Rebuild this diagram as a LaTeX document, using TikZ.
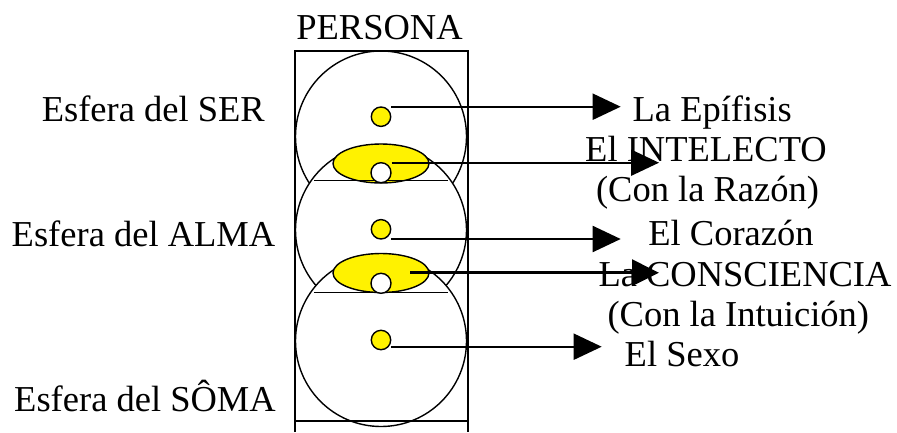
\documentclass[tikz,border=0pt]{standalone}
\usepackage{fontspec}
\setmainfont{Liberation Serif}
\usetikzlibrary{arrows.meta,shapes.geometric}
\begin{document}
\begin{tikzpicture}[x=1pt,y=-1pt,
  lbl/.style={anchor=base, inner sep=0pt, font=\fontsize{36.5}{40}\selectfont},
  sphere/.style={circle, draw, line width=1.4pt, fill=white, minimum size=171pt, inner sep=0pt},
  dot/.style={circle, draw, line width=1.4pt, fill=yellow, minimum size=19.4pt, inner sep=0pt},
  hole/.style={circle, draw, line width=1.4pt, fill=white, minimum size=20pt, inner sep=0pt},
  eye/.style={ellipse, draw, line width=1.4pt, fill=yellow, minimum width=96pt, minimum height=39pt, inner sep=0pt},
  rule/.style={line width=1.5pt},
  conn/.style={line width=2pt, -{Triangle[length=28pt,width=26pt]}},
  thickconn/.style={line width=3.4pt, -{Triangle[length=27pt,width=26pt]}},
  frame/.style={line width=1.7pt}
  ]
\useasboundingbox (0,0) rectangle (897,432);
% spheres
\node[sphere] (ser) at (381,136.5) {};
\node[sphere] (alma) at (381,230) {};
\node[sphere] (soma) at (381,341) {};
% eyes
\node[eye] (eye1) at (381,163.5) {};
\node[eye] (eye2) at (381,273) {};
\coordinate (r1a) at (314,180.7); \coordinate (r1b) at (448,180.7);
\coordinate (r2a) at (314,292.3); \coordinate (r2b) at (448,292.3);
\draw[rule] (r1a) -- (r1b);
\draw[rule] (r2a) -- (r2b);
\node[hole] (hole1) at (381,172.7) {};
\node[hole] (hole2) at (381,283.3) {};
% dots
\node[dot] (dot1) at (381,116.7) {};
\node[dot] (dot2) at (381,229.3) {};
\node[dot] (dot3) at (381,340) {};
% labels
\node[lbl] (persona) at (379.5,39.3) {PERSONA};
\node[lbl] (lser) at (153.3,121.7) {Esfera del SER};
\node[lbl] (lalma) at (143.5,246) {Esfera del ALMA};
\node[lbl] (lsoma) at (145,411.7) {Esfera del SÔMA};
\node[lbl] (t1) at (712.2,121.7) {La Epífisis};
\node[lbl] (t2) at (706,161.7) {El INTELECTO};
\node[lbl] (t3) at (707.5,201.7) {(Con la Razón)};
\node[lbl] (t4) at (731,245) {El Corazón};
\node[lbl] (t5) at (745,286.7) {La CONSCIENCIA};
\node[lbl] (t6) at (738.3,326.7) {(Con la Intuición)};
\node[lbl] (t7) at (682,366.7) {El Sexo};
% connectors
\coordinate (e1) at (620.7,106.7);
\coordinate (e2) at (659,162.7);
\coordinate (e3) at (620.7,239);
\coordinate (e4) at (659,272.7);
\coordinate (e5) at (601.7,346.7);
\coordinate (s4) at (410,272.7);
\draw[conn] (dot1.east |- e1) -- (e1);
\draw[conn] (hole1.east |- e2) -- (e2);
\draw[conn] (dot2.east |- e3) -- (e3);
\draw[thickconn] (s4) -- (e4);
\draw[conn] (dot3.east |- e5) -- (e5);
% frame
\coordinate (fa) at (294.7,432); \coordinate (fb) at (294.7,51);
\coordinate (fc) at (467.7,51); \coordinate (fd) at (467.7,432);
\coordinate (fe) at (294.7,421); \coordinate (ff) at (467.7,421);
\draw[frame] (fa) -- (fb) -- (fc) -- (fd);
\draw[frame] (fe) -- (ff);
\end{tikzpicture}
\end{document}
